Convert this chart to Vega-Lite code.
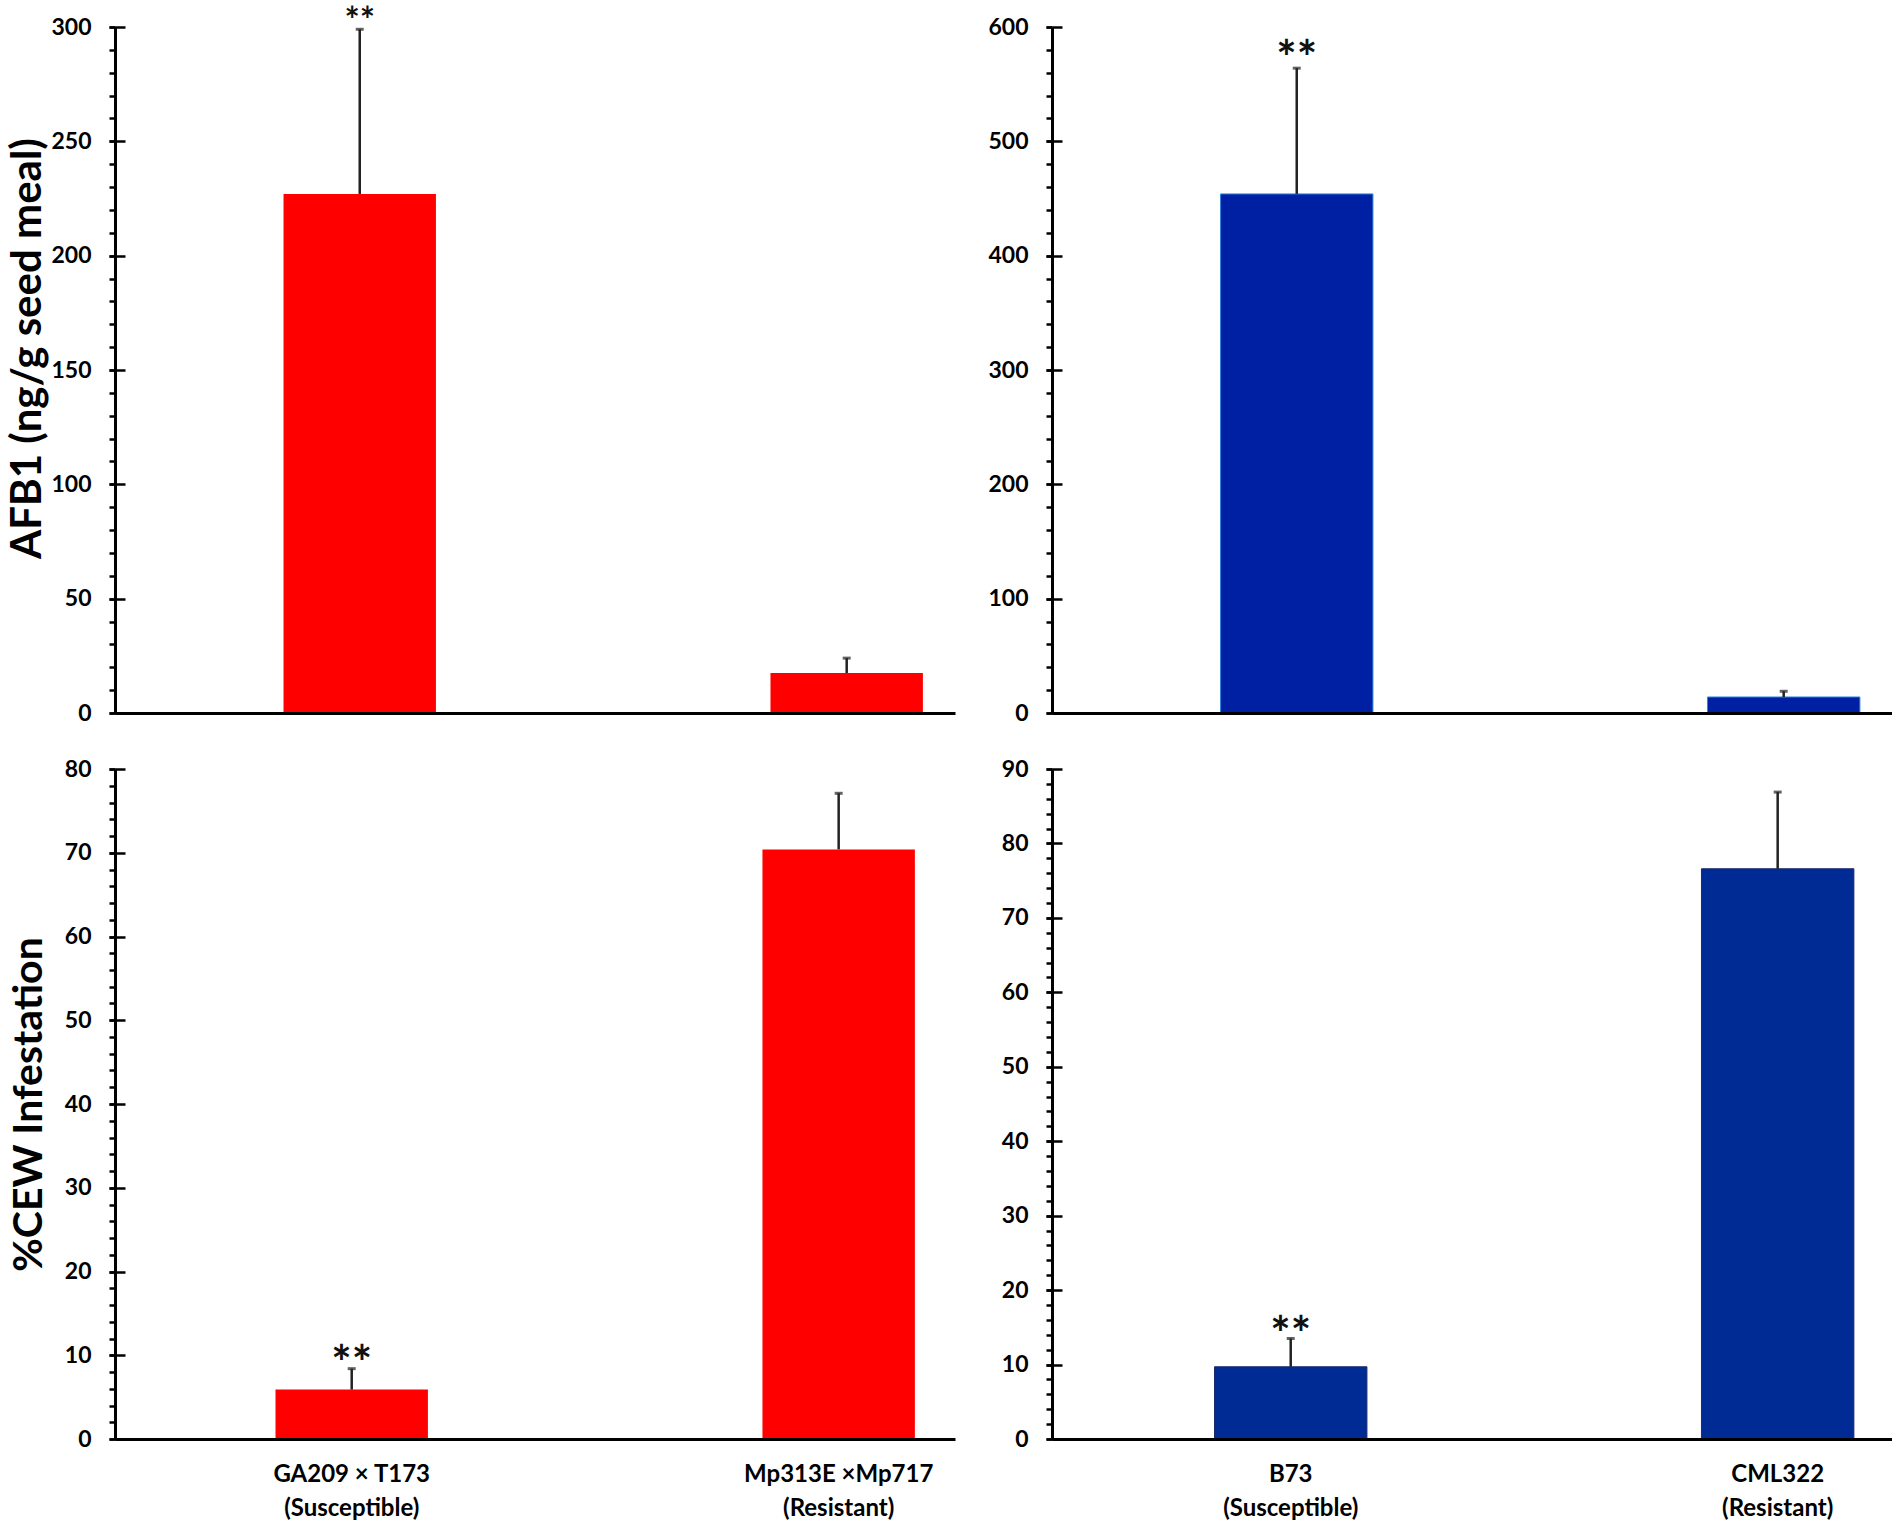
{
  "$schema": "https://vega.github.io/schema/vega-lite/v6.json",
  "padding": {"left": 6, "top": 4, "right": 0, "bottom": 0},
  "background": "white",
  "datasets": {
    "afbRed": [
      {"line": "GA209 × T173|(Susceptible)", "value": 227, "upper": 299, "sig": "**"},
      {"line": "Mp313E ×Mp717|(Resistant)", "value": 17.5, "upper": 24, "sig": ""}
    ],
    "afbBlue": [
      {"line": "B73|(Susceptible)", "value": 454, "upper": 564, "sig": "**"},
      {"line": "CML322|(Resistant)", "value": 14, "upper": 19, "sig": ""}
    ],
    "cewRed": [
      {"line": "GA209 × T173|(Susceptible)", "value": 5.9, "upper": 8.4, "sig": "**"},
      {"line": "Mp313E ×Mp717|(Resistant)", "value": 70.4, "upper": 77.1, "sig": ""}
    ],
    "cewBlue": [
      {"line": "B73|(Susceptible)", "value": 9.7, "upper": 13.5, "sig": "**"},
      {"line": "CML322|(Resistant)", "value": 76.6, "upper": 86.9, "sig": ""}
    ]
  },
  "columns": 2,
  "bounds": "flush",
  "spacing": {"row": 56, "column": 97},
  "concat": [
    {
      "width": 840,
      "height": 686,
      "data": {"name": "afbRed"},
      "encoding": {
        "x": {
          "field": "line", "type": "nominal", "sort": null,
          "scale": {"type": "band", "paddingInner": 0.687, "paddingOuter": 0.206, "align": 0.84},
          "axis": {"title": null, "labels": false, "ticks": false, "domainWidth": 3, "domainColor": "black", "zindex": 1}
        }
      },
      "layer": [
        {
          "mark": {"type": "bar", "color": "#FF0000"},
          "encoding": {
            "y": {
              "field": "value", "type": "quantitative",
              "scale": {"domain": [0, 300], "nice": false},
              "axis": {"orient": "left", "values": [0, 50, 100, 150, 200, 250, 300], "tickSize": 6, "labelPadding": 18,
                "title": "AFB1 (ng/g seed meal)", "titlePadding": 1, "titleFontSize": 42, "titleY": 321}
            }
          }
        },
        {
          "mark": {"type": "rule", "color": "#222222", "strokeWidth": 2.5},
          "encoding": {
            "y": {
              "field": "value", "type": "quantitative",
              "axis": {"orient": "left", "values": [0, 10, 20, 30, 40, 50, 60, 70, 80, 90, 100, 110, 120, 130, 140, 150, 160, 170, 180, 190, 200, 210, 220, 230, 240, 250, 260, 270, 280, 290, 300],
                "labels": false, "domain": false, "tickSize": 6, "title": null}
            },
            "y2": {"field": "upper"}
          }
        },
        {
          "mark": {"type": "tick", "color": "#222222", "thickness": 3, "size": 8},
          "encoding": {
            "y": {
              "field": "upper", "type": "quantitative",
              "axis": {"orient": "left", "values": [0, 50, 100, 150, 200, 250, 300], "labels": false, "domain": false, "tickSize": -10, "title": null}
            }
          }
        },
        {
          "mark": {"type": "text", "fontSize": 36, "fontWeight": "bold", "color": "#111111", "baseline": "alphabetic", "dy": 4},
          "encoding": {
            "y": {"field": "upper", "type": "quantitative", "axis": null},
            "text": {"field": "sig"}
          }
        }
      ],
      "resolve": {"axis": {"y": "independent"}}
    },
    {
      "width": 840,
      "height": 686,
      "data": {"name": "afbBlue"},
      "encoding": {
        "x": {
          "field": "line", "type": "nominal", "sort": null,
          "scale": {"type": "band", "paddingInner": 0.687, "paddingOuter": 0.206, "align": 0.84},
          "axis": {"title": null, "labels": false, "ticks": false, "domainWidth": 3, "domainColor": "black", "zindex": 1}
        }
      },
      "layer": [
        {
          "mark": {"type": "bar", "color": "#0020A4", "stroke": "#2E86DE", "strokeWidth": 1},
          "encoding": {
            "y": {
              "field": "value", "type": "quantitative",
              "scale": {"domain": [0, 600], "nice": false},
              "axis": {"orient": "left", "values": [0, 100, 200, 300, 400, 500, 600], "tickSize": 6, "labelPadding": 18, "title": null}
            }
          }
        },
        {
          "mark": {"type": "rule", "color": "#222222", "strokeWidth": 2.5},
          "encoding": {
            "y": {
              "field": "value", "type": "quantitative",
              "axis": {"orient": "left", "values": [0, 20, 40, 60, 80, 100, 120, 140, 160, 180, 200, 220, 240, 260, 280, 300, 320, 340, 360, 380, 400, 420, 440, 460, 480, 500, 520, 540, 560, 580, 600],
                "labels": false, "domain": false, "tickSize": 6, "title": null}
            },
            "y2": {"field": "upper"}
          }
        },
        {
          "mark": {"type": "tick", "color": "#222222", "thickness": 3, "size": 8},
          "encoding": {
            "y": {
              "field": "upper", "type": "quantitative",
              "axis": {"orient": "left", "values": [0, 100, 200, 300, 400, 500, 600], "labels": false, "domain": false, "tickSize": -10, "title": null}
            }
          }
        },
        {
          "mark": {"type": "text", "fontSize": 48, "fontWeight": "bold", "color": "#111111", "baseline": "alphabetic", "dy": 7},
          "encoding": {
            "y": {"field": "upper", "type": "quantitative", "axis": null},
            "text": {"field": "sig"}
          }
        }
      ],
      "resolve": {"axis": {"y": "independent"}}
    },
    {
      "width": 840,
      "height": 670,
      "data": {"name": "cewRed"},
      "encoding": {
        "x": {
          "field": "line", "type": "nominal", "sort": null,
          "scale": {"type": "band", "paddingInner": 0.687, "paddingOuter": 0.206, "align": 0.8},
          "axis": {"title": null, "ticks": false, "labelAngle": 0, "labelExpr": "split(datum.label, '|')", "labelPadding": 23, "labelLimit": 0,
            "labelFontSize": 24, "labelLineHeight": 34, "domainWidth": 3, "domainColor": "black", "zindex": 1}
        }
      },
      "layer": [
        {
          "mark": {"type": "bar", "color": "#FF0000"},
          "encoding": {
            "y": {
              "field": "value", "type": "quantitative",
              "scale": {"domain": [0, 80], "nice": false},
              "axis": {"orient": "left", "values": [0, 10, 20, 30, 40, 50, 60, 70, 80], "tickSize": 6, "labelPadding": 18,
                "title": "%CEW Infestation", "titlePadding": 14, "titleFontSize": 41}
            }
          }
        },
        {
          "mark": {"type": "rule", "color": "#222222", "strokeWidth": 2.5},
          "encoding": {
            "y": {
              "field": "value", "type": "quantitative",
              "axis": {"orient": "left", "values": [0, 2, 4, 6, 8, 10, 12, 14, 16, 18, 20, 22, 24, 26, 28, 30, 32, 34, 36, 38, 40, 42, 44, 46, 48, 50, 52, 54, 56, 58, 60, 62, 64, 66, 68, 70, 72, 74, 76, 78, 80],
                "labels": false, "domain": false, "tickSize": 6, "title": null}
            },
            "y2": {"field": "upper"}
          }
        },
        {
          "mark": {"type": "tick", "color": "#222222", "thickness": 3, "size": 8},
          "encoding": {
            "y": {
              "field": "upper", "type": "quantitative",
              "axis": {"orient": "left", "values": [0, 10, 20, 30, 40, 50, 60, 70, 80], "labels": false, "domain": false, "tickSize": -10, "title": null}
            }
          }
        },
        {
          "mark": {"type": "text", "fontSize": 48, "fontWeight": "bold", "color": "#111111", "baseline": "alphabetic", "dy": 11},
          "encoding": {
            "y": {"field": "upper", "type": "quantitative", "axis": null},
            "text": {"field": "sig"}
          }
        }
      ],
      "resolve": {"axis": {"y": "independent"}}
    },
    {
      "width": 840,
      "height": 670,
      "data": {"name": "cewBlue"},
      "encoding": {
        "x": {
          "field": "line", "type": "nominal", "sort": null,
          "scale": {"type": "band", "paddingInner": 0.687, "paddingOuter": 0.206, "align": 0.81},
          "axis": {"title": null, "ticks": false, "labelAngle": 0, "labelExpr": "split(datum.label, '|')", "labelPadding": 23, "labelLimit": 0,
            "labelFontSize": 24, "labelLineHeight": 34, "domainWidth": 3, "domainColor": "black", "zindex": 1}
        }
      },
      "layer": [
        {
          "mark": {"type": "bar", "color": "#002A94", "stroke": "#1B2A6B", "strokeWidth": 1},
          "encoding": {
            "y": {
              "field": "value", "type": "quantitative",
              "scale": {"domain": [0, 90], "nice": false},
              "axis": {"orient": "left", "values": [0, 10, 20, 30, 40, 50, 60, 70, 80, 90], "tickSize": 6, "labelPadding": 18, "title": null}
            }
          }
        },
        {
          "mark": {"type": "rule", "color": "#222222", "strokeWidth": 2.5},
          "encoding": {
            "y": {
              "field": "value", "type": "quantitative",
              "axis": {"orient": "left", "values": [0, 2, 4, 6, 8, 10, 12, 14, 16, 18, 20, 22, 24, 26, 28, 30, 32, 34, 36, 38, 40, 42, 44, 46, 48, 50, 52, 54, 56, 58, 60, 62, 64, 66, 68, 70, 72, 74, 76, 78, 80, 82, 84, 86, 88, 90],
                "labels": false, "domain": false, "tickSize": 6, "title": null}
            },
            "y2": {"field": "upper"}
          }
        },
        {
          "mark": {"type": "tick", "color": "#222222", "thickness": 3, "size": 8},
          "encoding": {
            "y": {
              "field": "upper", "type": "quantitative",
              "axis": {"orient": "left", "values": [0, 10, 20, 30, 40, 50, 60, 70, 80, 90], "labels": false, "domain": false, "tickSize": -10, "title": null}
            }
          }
        },
        {
          "mark": {"type": "text", "fontSize": 48, "fontWeight": "bold", "color": "#111111", "baseline": "alphabetic", "dy": 12},
          "encoding": {
            "y": {"field": "upper", "type": "quantitative", "axis": null},
            "text": {"field": "sig"}
          }
        }
      ],
      "resolve": {"axis": {"y": "independent"}}
    }
  ],
  "config": {
    "font": "Lato",
    "view": {"stroke": null},
    "axis": {
      "labelFont": "Lato", "labelFontWeight": "bold", "labelFontSize": 23, "labelColor": "black", "labelOverlap": false,
      "titleFont": "Lato", "titleFontWeight": "bold", "titleColor": "black",
      "domainColor": "black", "domainWidth": 3, "tickColor": "black", "tickWidth": 2.5, "grid": false
    }
  }
}
